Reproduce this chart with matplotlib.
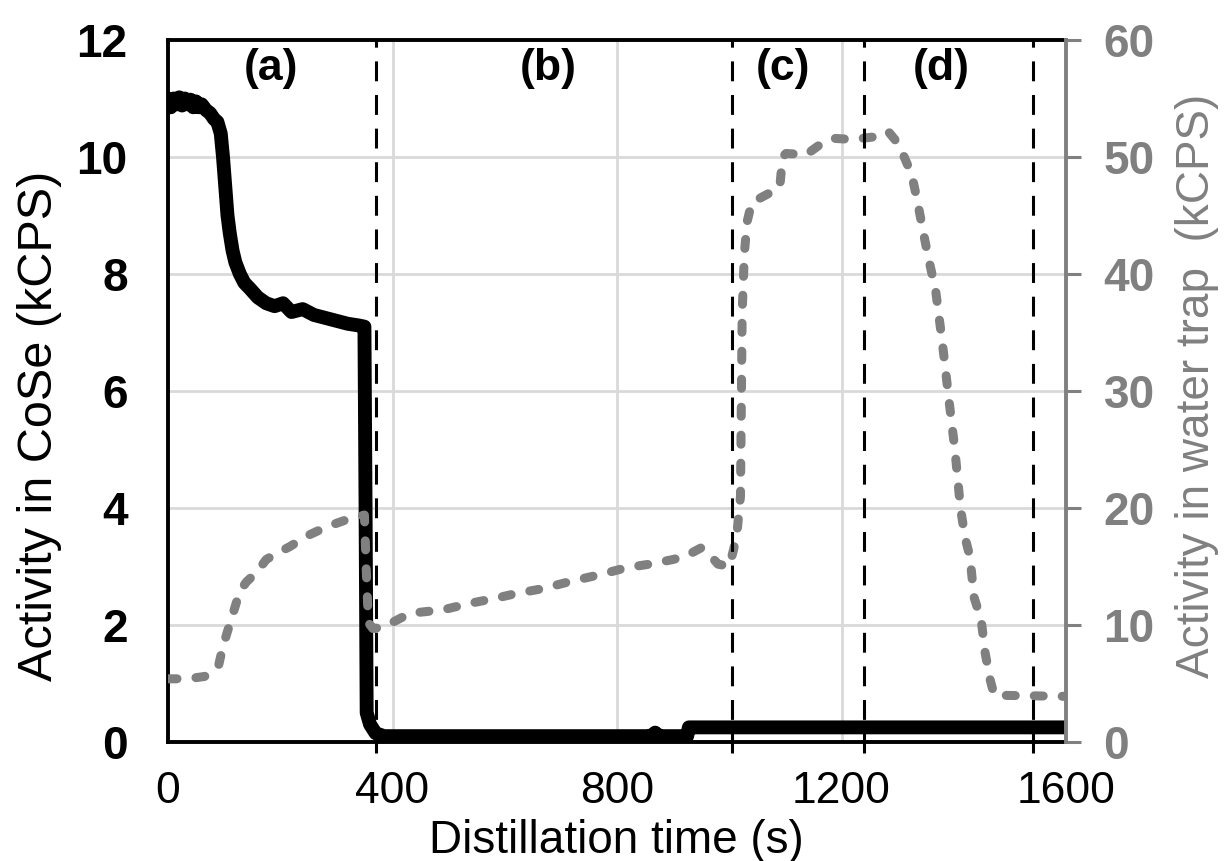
import numpy as np
import matplotlib
matplotlib.use("Agg")
import matplotlib.pyplot as plt

plt.rcParams['font.family'] = ['Liberation Sans', 'DejaVu Sans']

# Activity in CoSe (left axis, kCPS)
t_cose = [0, 5, 10, 15, 20, 25, 30, 35, 40, 45, 50, 55, 60, 68, 75, 82, 88, 94, 98, 102,
          106, 110, 115, 120, 128, 136, 146, 160, 175, 190, 205, 220, 240, 260, 280, 300,
          320, 340, 350, 352, 354, 360, 370, 385, 500, 700, 860, 868, 876, 925, 928, 1600]
a_cose = [10.95, 10.85, 11.0, 10.9, 11.02, 10.88, 11.0, 10.9, 10.98, 10.85, 10.95, 10.85,
          10.9, 10.8, 10.75, 10.65, 10.6, 10.4, 10.0, 9.5, 9.0, 8.7, 8.4, 8.2, 8.0, 7.85,
          7.75, 7.6, 7.5, 7.45, 7.5, 7.35, 7.4, 7.3, 7.25, 7.2, 7.15, 7.12, 7.1, 4.0, 0.5,
          0.3, 0.15, 0.1, 0.1, 0.1, 0.1, 0.16, 0.1, 0.1, 0.25, 0.25]

# Activity in water trap (right axis, kCPS)
t_trap = [0, 30, 50, 65, 80, 90, 97, 105, 116, 128, 140, 158, 175, 193, 217, 247, 283,
          324, 350, 353, 357, 365, 383, 431, 490, 543, 585, 621, 667, 715, 769, 817,
          858, 900, 923, 950, 965, 980, 1000, 1008, 1014, 1020, 1023, 1027, 1032, 1040,
          1071, 1090, 1095, 1101, 1137, 1160, 1184, 1219, 1255, 1283, 1295, 1310, 1325,
          1335, 1344, 1353, 1368, 1380, 1392, 1402, 1412, 1420, 1429, 1436, 1449, 1456,
          1465, 1472, 1600]
a_trap = [5.4, 5.4, 5.5, 5.6, 6.0, 6.5, 8.0, 9.3, 11.0, 12.9, 13.7, 14.5, 15.6, 16.1,
          16.7, 17.6, 18.4, 19.1, 19.4, 15.0, 10.2, 9.7, 9.8, 11.0, 11.3, 11.9, 12.3,
          12.7, 13.1, 13.7, 14.3, 14.9, 15.2, 15.6, 15.9, 16.6, 16.0, 15.2, 15.0, 16.5,
          18.0, 21.0, 36.7, 41.8, 44.5, 46.1, 46.9, 47.4, 50.0, 50.3, 50.2, 51.0, 51.6,
          51.5, 51.7, 52.2, 51.5, 50.2, 48.5, 46.3, 44.0, 41.8, 38.5, 34.0, 29.0, 25.0,
          20.0, 17.5, 15.8, 12.4, 10.4, 7.6, 5.3, 4.0, 3.9]

stage_bounds = [370, 1005, 1240, 1541]
stage_names = ['(a)', '(b)', '(c)', '(d)']
stage_x = [183, 678, 1096, 1377]

x_ticks = [0, 400, 800, 1200, 1600]
left_ticks = [0, 2, 4, 6, 8, 10, 12]
right_ticks = [0, 10, 20, 30, 40, 50, 60]

gray = '#808080'

fig = plt.figure(figsize=(12.25, 8.61), dpi=100)
ax = fig.add_axes([168 / 1225, 1 - 742 / 861, (1066 - 168) / 1225, (742 - 40) / 861])
ax2 = ax.twinx()

ax.plot(t_cose, a_cose, color='black', lw=10, solid_joinstyle='round', zorder=3)
ax2.plot(t_trap, a_trap, color=gray, lw=6.5, linestyle=(0, (1.0, 2.1)),
         dash_capstyle='round', solid_joinstyle='round', zorder=3)

for xb in stage_bounds:
    ax2.axvline(xb, ymin=-0.015, ymax=1, color='black', lw=2.2,
                linestyle=(0, (6.5, 4.5)), clip_on=False, zorder=5)

for name, xs in zip(stage_names, stage_x):
    ax.text(xs, 11.52, name, ha='center', va='center', fontsize=32, fontweight='bold')

ax.set_xlim(0, 1600)
ax.set_ylim(0, 12)
ax2.set_ylim(0, 60)

ax.set_xticks(x_ticks)
ax.set_yticks(left_ticks)
ax2.set_yticks(right_ticks)
ax.grid(True, color='#d9d9d9', lw=2)
ax.set_axisbelow(True)

ax.tick_params(axis='x', length=0, pad=21, labelsize=32)
ax.tick_params(axis='y', length=0, pad=29, labelsize=33)
for lab in ax.get_yticklabels():
    lab.set_fontweight('bold')
ax2.tick_params(axis='y', length=11, width=2.2, color=gray, pad=16,
                labelsize=33, labelcolor=gray)
for lab in ax2.get_yticklabels():
    lab.set_fontweight('bold')

for side in ['left', 'top', 'bottom']:
    ax.spines[side].set_linewidth(2.8)
    ax.spines[side].set_color('black')
    ax2.spines[side].set_visible(False)
ax.spines['right'].set_visible(False)
ax2.spines['right'].set_color(gray)
ax2.spines['right'].set_linewidth(2.8)

fig.text(616 / 1225, 1 - 853 / 861, 'Distillation time (s)', ha='center',
         va='baseline', fontsize=33)
fig.text(40 / 1225, 1 - 426 / 861, 'Activity in CoSe (kCPS)', ha='center',
         va='center', rotation=90, fontsize=35)
fig.text(1197 / 1225, 1 - 386 / 861, 'Activity in water trap  (kCPS)', ha='center',
         va='center', rotation=90, fontsize=33, color=gray)

fig.savefig('out.png', dpi=100)
